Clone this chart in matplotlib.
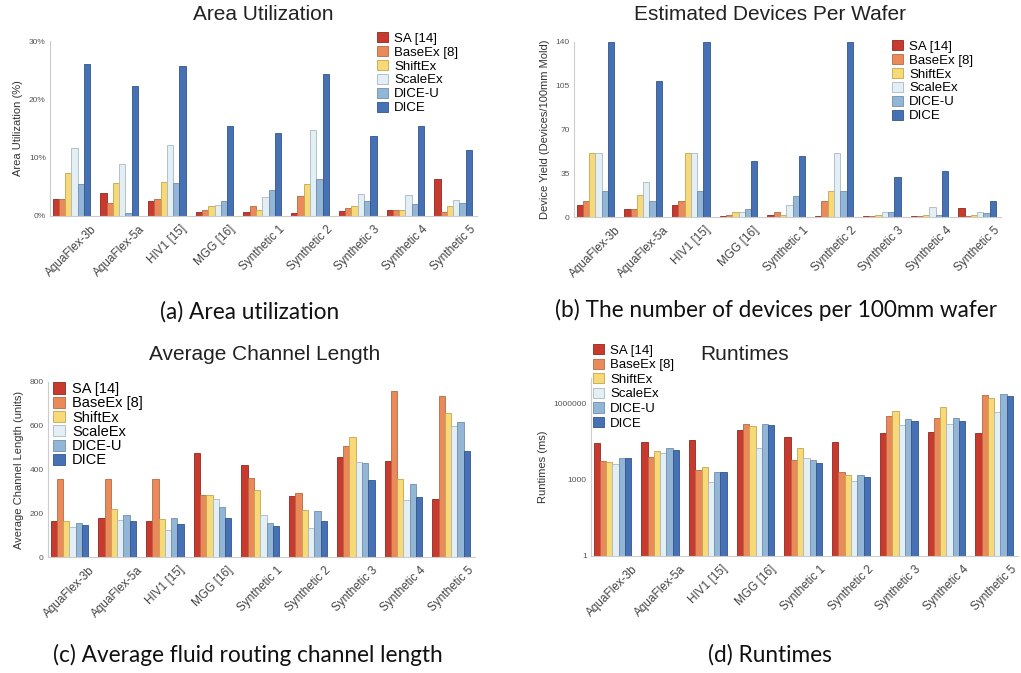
import numpy as np
import matplotlib
matplotlib.use("Agg")
import matplotlib.pyplot as plt
from matplotlib.ticker import FixedLocator, NullLocator

plt.rcParams['font.family'] = ['Liberation Sans', 'DejaVu Sans']

# data
benchmarks = ["AquaFlex-3b", "AquaFlex-5a", "HIV1 [15]", "MGG [16]", "Synthetic 1",
              "Synthetic 2", "Synthetic 3", "Synthetic 4", "Synthetic 5"]
methods = ["SA [14]", "BaseEx [8]", "ShiftEx", "ScaleEx", "DICE-U", "DICE"]

# area utilization (%), one list per method
area_sa     = [3.0, 4.0, 2.6, 0.75, 0.75, 0.6, 0.9, 1.0, 6.3]
area_base   = [2.9, 2.3, 3.0, 1.0, 1.8, 3.5, 1.3, 1.0, 0.75]
area_shift  = [7.4, 5.6, 5.9, 1.7, 1.0, 5.5, 1.7, 1.0, 1.8]
area_scale  = [11.7, 9.0, 12.2, 1.9, 3.3, 14.8, 3.7, 3.6, 2.8]
area_diceu  = [5.5, 0.5, 5.7, 2.6, 4.4, 6.4, 2.6, 2.0, 2.2]
area_dice   = [26.1, 22.3, 25.7, 15.4, 14.3, 24.4, 13.8, 15.5, 11.4]

# devices per 100mm wafer
dev_sa      = [10, 6.7, 10, 0.8, 1.3, 0.8, 1, 1, 7]
dev_base    = [12.5, 6.7, 12.5, 1.3, 4, 12.5, 1, 1, 1]
dev_shift   = [51, 18, 51, 4, 2, 21, 1.5, 1.5, 2]
dev_scale   = [51, 28, 51, 4, 10, 51, 4, 8, 4]
dev_diceu   = [21, 12.5, 21, 6.7, 17, 21, 4, 2, 3]
dev_dice    = [140, 109, 140, 45, 49, 140, 32, 37, 13]

# average channel length (units)
len_sa      = [163, 180, 166, 476, 419, 279, 457, 439, 265]
len_base    = [355, 355, 358, 285, 363, 294, 509, 759, 736]
len_shift   = [163, 221, 175, 285, 305, 213, 550, 358, 660]
len_scale   = [137, 171, 125, 267, 191, 134, 436, 262, 598]
len_diceu   = [157, 194, 180, 229, 157, 209, 431, 332, 619]
len_dice    = [145, 163, 152, 180, 140, 163, 354, 274, 483]

# runtimes (ms)
rt_sa       = [27500, 31000, 38000, 93000, 49000, 31000, 68000, 77000, 68000]
rt_base     = [5400, 7800, 2400, 156000, 5900, 2000, 334000, 277000, 2080000]
rt_shift    = [5100, 13500, 3200, 134000, 17000, 1600, 500000, 715000, 1690000]
rt_scale    = [4000, 11700, 820, 17000, 7400, 930, 142000, 156000, 454000]
rt_diceu    = [7100, 17400, 2000, 156000, 5900, 1500, 245000, 270000, 2280000]
rt_dice     = [7400, 15400, 2000, 142000, 4700, 1300, 210000, 199000, 1900000]

colors = ['#c83a2e', '#ea8a5a', '#f8d978', '#e4eff5', '#93b6d6', '#4671b5']
edges = ['#8e2a21', '#b56a44', '#c4a550', '#a9b8c0', '#6f8fae', '#34558a']

W, H = 1021, 673
fig = plt.figure(figsize=(W / 100, H / 100), dpi=100)


def px_axes(left, top, right, bottom):
    return fig.add_axes([left / W, 1 - bottom / H, (right - left) / W, (bottom - top) / H])


def draw(ax, series, log=False):
    x = np.arange(len(benchmarks))
    bw = 0.132
    for i, vals in enumerate(series):
        ax.bar(x + (i - 2.5) * bw, vals, width=bw, color=colors[i], edgecolor=edges[i],
               linewidth=0.6, label=methods[i], log=log)
    ax.set_xlim(-0.45, 8.5)
    ax.set_xticks(x)
    ax.set_xticklabels(benchmarks, rotation=45, ha='center',
                       fontsize=8.5, color='#444444')
    for s in ['top', 'right']:
        ax.spines[s].set_visible(False)
    for s in ['left', 'bottom']:
        ax.spines[s].set_color('#cccccc')
        ax.spines[s].set_linewidth(0.8)
    ax.tick_params(length=0, pad=3)
    ax.tick_params(axis='x', pad=5)
    ax.tick_params(axis='y', labelsize=6, labelcolor='#555555')


def legend(ax, x, y, fs=9.5, sp=0.1):
    ax.legend(loc='upper left', bbox_to_anchor=(x / W, 1 - y / H), bbox_transform=fig.transFigure,
              frameon=False, fontsize=fs, handlelength=0.8, handleheight=0.8,
              handletextpad=0.5, labelspacing=sp, borderpad=0, borderaxespad=0)


# (a)
ax = px_axes(50, 41, 477, 216)
draw(ax, [area_sa, area_base, area_shift, area_scale, area_diceu, area_dice])
ax.set_ylim(0, 30)
ax.set_yticks([0, 10, 20, 30])
ax.set_yticklabels(['0%', '10%', '20%', '30%'])
ax.set_ylabel('Area Utilization (%)', fontsize=8, color='#333333')
legend(ax, 377, 32, fs=9.5)
fig.text(263 / W, 1 - 15 / H, 'Area Utilization', ha='center', va='center', fontsize=15, color='#222222')

# (b)
ax = px_axes(574, 42, 1001, 217)
draw(ax, [dev_sa, dev_base, dev_shift, dev_scale, dev_diceu, dev_dice])
ax.set_ylim(0, 140)
ax.set_yticks([0, 35, 70, 105, 140])
ax.set_ylabel('Device Yield (Devices/100mm Mold)', fontsize=8, color='#333333')
legend(ax, 892, 40, fs=9.5)
fig.text(770 / W, 1 - 15 / H, 'Estimated Devices Per Wafer', ha='center', va='center', fontsize=15, color='#222222')

# (c)
ax = px_axes(48, 382, 475, 557)
draw(ax, [len_sa, len_base, len_shift, len_scale, len_diceu, len_dice])
ax.set_ylim(0, 800)
ax.set_yticks([0, 200, 400, 600, 800])
ax.set_ylabel('Average Channel Length (units)', fontsize=8, color='#333333')
legend(ax, 53, 382, fs=10.5, sp=0.02)
fig.text(265 / W, 1 - 355 / H, 'Average Channel Length', ha='center', va='center', fontsize=15, color='#222222')

# (d)
ax = px_axes(591, 378, 1018, 556)
draw(ax, [rt_sa, rt_base, rt_shift, rt_scale, rt_diceu, rt_dice], log=True)
ax.set_ylim(1, 1e7)
ax.yaxis.set_major_locator(FixedLocator([1, 1000, 1000000]))
ax.yaxis.set_minor_locator(NullLocator())
ax.set_yticklabels(['1', '1000', '1000000'])
ax.set_ylabel('Runtimes (ms)', fontsize=8, color='#333333')
legend(ax, 593, 344, fs=9.5, sp=0.15)
fig.text(745 / W, 1 - 355 / H, 'Runtimes', ha='center', va='center', fontsize=15, color='#222222')

# captions
cap = dict(ha='center', va='center', fontsize=16.3, color='#111111', family=['Lato', 'DejaVu Sans'])
fig.text(250 / W, 1 - 312 / H, '(a) Area utilization', **cap)
fig.text(776 / W, 1 - 310 / H, '(b) The number of devices per 100mm wafer', **cap)
fig.text(248 / W, 1 - 655 / H, '(c) Average fluid routing channel length', **cap)
fig.text(770 / W, 1 - 655 / H, '(d) Runtimes', **cap)

fig.savefig('out.png', dpi=100)
